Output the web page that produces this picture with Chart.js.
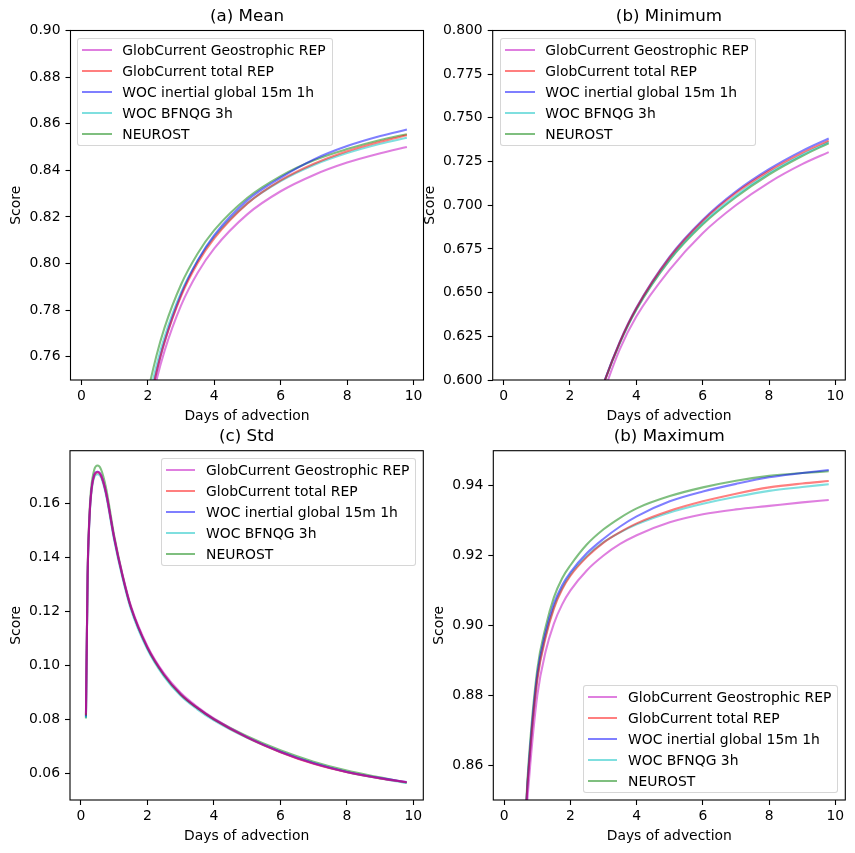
<!DOCTYPE html>
<html>
<head>
<meta charset="utf-8">
<script src="https://cdn.jsdelivr.net/npm/chart.js@4/dist/chart.umd.min.js"></script>
<style>
  html, body { margin: 0; padding: 0; background: #fff; }
  body { width: 855px; height: 853px; position: relative; overflow: hidden; font-family: "DejaVu Sans", sans-serif; }
  canvas { position: absolute; }
  .legend { position: absolute; background: rgba(255,255,255,0.8); border: 1px solid rgba(204,204,204,0.8);
            border-radius: 3px; padding: 0.6px 6px 0.6px 4px; font-size: 13.9px; color: #000; box-sizing: content-box; }
  .row { display: flex; align-items: center; height: 21px; white-space: nowrap; }
  .handle { width: 29.4px; height: 0; border-top: 2.1px solid; margin-right: 10.6px; flex: none; }
</style>
</head>
<body>
<script>
// ---------------- data ----------------
const seriesNames = ['GlobCurrent Geostrophic REP', 'GlobCurrent total REP', 'WOC inertial global 15m 1h', 'WOC BFNQG 3h', 'NEUROST'];
const xTickValues = [0, 2, 4, 6, 8, 10];

// (a) Mean
const meanDays        = [1.75, 2, 2.25, 2.5, 3, 3.5, 4, 5, 6, 7, 8, 9, 9.8];
const meanGeo         = [0.7120, 0.7330, 0.7494, 0.7624, 0.7820, 0.7960, 0.8065, 0.8212, 0.8310, 0.8380, 0.8433, 0.8473, 0.8500];
const meanTotal       = [0.7149, 0.7362, 0.7528, 0.7661, 0.7860, 0.8002, 0.8108, 0.8258, 0.8357, 0.8428, 0.8482, 0.8523, 0.8550];
const meanWocInertial = [0.7138, 0.7357, 0.7527, 0.7663, 0.7867, 0.8013, 0.8122, 0.8272, 0.8368, 0.8447, 0.8504, 0.8547, 0.8575];
const meanWocBfnqg    = [0.7192, 0.7397, 0.7557, 0.7684, 0.7876, 0.8012, 0.8115, 0.8259, 0.8354, 0.8423, 0.8474, 0.8514, 0.8540];
const meanNeurost     = [0.7246, 0.7445, 0.7600, 0.7724, 0.7910, 0.8043, 0.8143, 0.8282, 0.8375, 0.8443, 0.8491, 0.8530, 0.8555];
const meanTicks = [0.76, 0.78, 0.80, 0.82, 0.84, 0.86, 0.88, 0.90];

// (b) Minimum
const minDays        = [2.5, 2.75, 3, 3.5, 4, 5, 6, 7, 8, 9, 9.8];
const minGeo         = [0.5600, 0.5770, 0.5920, 0.6175, 0.6363, 0.6630, 0.6840, 0.7000, 0.7130, 0.7235, 0.7304];
const minTotal       = [0.5650, 0.5822, 0.5970, 0.6215, 0.6410, 0.6700, 0.6910, 0.7070, 0.7196, 0.7300, 0.7370];
const minWocInertial = [0.5653, 0.5825, 0.5973, 0.6218, 0.6413, 0.6705, 0.6916, 0.7078, 0.7206, 0.7311, 0.7382];
const minWocBfnqg    = [0.5655, 0.5825, 0.5972, 0.6212, 0.6405, 0.6690, 0.6898, 0.7055, 0.7185, 0.7290, 0.7362];
const minNeurost     = [0.5655, 0.5823, 0.5970, 0.6210, 0.6402, 0.6685, 0.6890, 0.7046, 0.7176, 0.7282, 0.7355];
const minTicks = [0.600, 0.625, 0.650, 0.675, 0.700, 0.725, 0.750, 0.775, 0.800];

// (c) Std
const stdDays        = [0.15, 0.2, 0.25, 0.3, 0.4, 0.5, 0.6, 0.75, 1.0, 1.25, 1.5, 2.0, 2.5, 3.0, 3.5, 4.0, 5.0, 6.0, 7.0, 8.0, 9.0, 9.8];
const stdGeo         = [0.0822, 0.1340, 0.1535, 0.1632, 0.1706, 0.1717, 0.1706, 0.1643, 0.1475, 0.1336, 0.1221, 0.1071, 0.0970, 0.0898, 0.0846, 0.0803, 0.0734, 0.0679, 0.0636, 0.0605, 0.0582, 0.0567];
const stdTotal       = [0.0815, 0.1332, 0.1530, 0.1628, 0.1703, 0.1715, 0.1703, 0.1640, 0.1471, 0.1331, 0.1216, 0.1066, 0.0965, 0.0893, 0.0842, 0.0800, 0.0732, 0.0678, 0.0635, 0.0604, 0.0581, 0.0567];
const stdWocInertial = [0.0810, 0.1330, 0.1530, 0.1630, 0.1705, 0.1717, 0.1705, 0.1640, 0.1470, 0.1330, 0.1215, 0.1065, 0.0965, 0.0893, 0.0842, 0.0800, 0.0733, 0.0680, 0.0637, 0.0605, 0.0582, 0.0568];
const stdWocBfnqg    = [0.0805, 0.1325, 0.1525, 0.1622, 0.1697, 0.1708, 0.1697, 0.1633, 0.1463, 0.1323, 0.1208, 0.1058, 0.0958, 0.0887, 0.0837, 0.0796, 0.0731, 0.0679, 0.0637, 0.0605, 0.0581, 0.0564];
const stdNeurost     = [0.0803, 0.1340, 0.1545, 0.1648, 0.1725, 0.1740, 0.1727, 0.1660, 0.1480, 0.1335, 0.1217, 0.1064, 0.0963, 0.0892, 0.0842, 0.0801, 0.0737, 0.0685, 0.0643, 0.0610, 0.0585, 0.0565];
const stdTicks = [0.06, 0.08, 0.10, 0.12, 0.14, 0.16];

// (d) Maximum
const maxDays        = [0.5, 0.67, 0.75, 1.0, 1.25, 1.5, 1.75, 2.0, 2.5, 3.0, 3.5, 4.0, 5.0, 6.0, 7.0, 8.0, 9.0, 9.8];
const maxGeo         = [0.7950, 0.8450, 0.8560, 0.8800, 0.8925, 0.9005, 0.9060, 0.9100, 0.9158, 0.9200, 0.9233, 0.9258, 0.9295, 0.9318, 0.9332, 0.9342, 0.9352, 0.9359];
const maxTotal       = [0.8000, 0.8490, 0.8600, 0.8845, 0.8965, 0.9048, 0.9103, 0.9142, 0.9196, 0.9237, 0.9267, 0.9292, 0.9328, 0.9355, 0.9377, 0.9395, 0.9406, 0.9413];
const maxWocInertial = [0.8000, 0.8490, 0.8610, 0.8860, 0.8980, 0.9062, 0.9115, 0.9152, 0.9207, 0.9248, 0.9283, 0.9312, 0.9355, 0.9383, 0.9405, 0.9424, 0.9436, 0.9445];
const maxWocBfnqg    = [0.8000, 0.8490, 0.8605, 0.8850, 0.8970, 0.9053, 0.9107, 0.9146, 0.9199, 0.9238, 0.9266, 0.9289, 0.9323, 0.9348, 0.9368, 0.9385, 0.9396, 0.9404];
const maxNeurost     = [0.8000, 0.8500, 0.8625, 0.8875, 0.8995, 0.9080, 0.9135, 0.9172, 0.9232, 0.9275, 0.9308, 0.9335, 0.9370, 0.9395, 0.9414, 0.9428, 0.9436, 0.9441];
const maxTicks = [0.86, 0.88, 0.90, 0.92, 0.94];

// ---------------- styles & layout ----------------
const FONT = "'DejaVu Sans', sans-serif";
const seriesColors = ['rgba(191,0,191,0.5)', 'rgba(255,0,0,0.5)', 'rgba(0,0,255,0.5)', 'rgba(0,191,191,0.5)', 'rgba(0,128,0,0.5)'];
Chart.defaults.font.family = FONT;
Chart.defaults.color = '#000';

const panels = [
  { title: '(a) Mean', days: meanDays, series: [meanGeo, meanTotal, meanWocInertial, meanWocBfnqg, meanNeurost],
    yMin: 0.75, yMax: 0.90, yTicks: meanTicks, dec: 2,
    box: [0, 0, 430, 430], area: [70.5, 30.5, 423.5, 380], scoreMid: 16.5, xTitleMid: 416,
    legend: { left: 77.3, top: 37.7 } },
  { title: '(b) Minimum', days: minDays, series: [minGeo, minTotal, minWocInertial, minWocBfnqg, minNeurost],
    yMin: 0.60, yMax: 0.80, yTicks: minTicks, dec: 3,
    box: [420, 0, 435, 430], area: [492.7, 30.5, 845.3, 380], scoreMid: 430.5, xTitleMid: 416,
    legend: { left: 500.3, top: 37.7 } },
  { title: '(c) Std', days: stdDays, series: [stdGeo, stdTotal, stdWocInertial, stdWocBfnqg, stdNeurost],
    yMin: 0.0501, yMax: 0.1795, yTicks: stdTicks, dec: 2,
    box: [0, 420, 430, 433], area: [70, 450.7, 423.3, 800], scoreMid: 16.7, xTitleMid: 836,
    legend: { right: 855 - 416.3, top: 457.7 } },
  { title: '(b) Maximum', days: maxDays, series: [maxGeo, maxTotal, maxWocInertial, maxWocBfnqg, maxNeurost],
    yMin: 0.85, yMax: 0.95, yTicks: maxTicks, dec: 2,
    box: [420, 420, 435, 433], area: [493.3, 450.7, 845.3, 800], scoreMid: 439.2, xTitleMid: 836,
    legend: { right: 855 - 838.3, bottom: 853 - 793.3 } }
];

const framePlugin = {
  id: 'frame',
  afterDatasetsDraw(chart) {
    const { ctx, chartArea: a } = chart;
    ctx.save();
    ctx.strokeStyle = '#000';
    ctx.lineWidth = 1.1;
    ctx.strokeRect(a.left, a.top, a.right - a.left, a.bottom - a.top);
    ctx.restore();
  }
};

const TICK_FONT = { family: FONT, size: 13.9, lineHeight: 1.2 };
const TITLE_FONT = { family: FONT, size: 16.7, lineHeight: 1.2, weight: 'normal' };

panels.forEach(p => {
  const [L, T, W, H] = p.box;
  const [cl, ct, cr, cb] = p.area;
  const canvas = document.createElement('canvas');
  canvas.width = W; canvas.height = H;
  canvas.style.left = L + 'px'; canvas.style.top = T + 'px';
  canvas.style.width = W + 'px'; canvas.style.height = H + 'px';
  document.body.appendChild(canvas);

  const titleLH = TITLE_FONT.size * 1.2;
  const tickLH = TICK_FONT.size * 1.2;
  const titleMidRel = 16.4;
  const titlePadTop = titleMidRel - titleLH / 2;
  const titlePadBottom = (ct - T) - titlePadTop - titleLH;
  const yW = cl - L;
  const xH = (T + H) - cb;
  const xTitlePadBottom = (T + H) - p.xTitleMid - tickLH / 2;
  const yTitlePadTop = (p.scoreMid - L) - tickLH / 2;

  const datasets = p.series.map((vals, i) => ({
    label: seriesNames[i],
    data: p.days.map((d, k) => ({ x: d, y: vals[k] })),
    borderColor: seriesColors[i],
    backgroundColor: seriesColors[i],
    borderWidth: 2.08,
    pointRadius: 0,
    pointHoverRadius: 0,
    fill: false,
    cubicInterpolationMode: 'monotone',
    clip: 0
  }));

  const gridOpts = { display: true, drawOnChartArea: false, drawTicks: true, tickLength: 5, tickWidth: 1.1, tickColor: '#000' };

  new Chart(canvas, {
    type: 'line',
    data: { datasets },
    options: {
      responsive: false,
      animation: false,
      devicePixelRatio: 1,
      events: [],
      layout: { padding: { left: 0, top: 0, right: W - (cr - L), bottom: 0 } },
      plugins: {
        legend: { display: false },
        tooltip: { enabled: false },
        title: { display: true, text: p.title, color: '#000', fullSize: false, font: TITLE_FONT,
                 padding: { top: titlePadTop, bottom: titlePadBottom } }
      },
      scales: {
        x: {
          type: 'linear', min: -0.33, max: 10.3,
          afterBuildTicks: s => { s.ticks = xTickValues.map(v => ({ value: v })); },
          afterFit: s => { s.height = xH; },
          ticks: { color: '#000', font: TICK_FONT, padding: 3.2, maxRotation: 0, autoSkip: false, callback: v => String(v) },
          grid: gridOpts,
          border: { display: false },
          title: { display: true, text: 'Days of advection', color: '#000', font: TICK_FONT, padding: { top: 0, bottom: xTitlePadBottom } }
        },
        y: {
          type: 'linear', min: p.yMin, max: p.yMax,
          afterBuildTicks: s => { s.ticks = p.yTicks.map(v => ({ value: v })); },
          afterFit: s => { s.width = yW; },
          ticks: { color: '#000', font: TICK_FONT, padding: 5, autoSkip: false, callback: v => Number(v).toFixed(p.dec) },
          grid: gridOpts,
          border: { display: false },
          title: { display: true, text: 'Score', color: '#000', font: TICK_FONT, padding: { top: yTitlePadTop, bottom: 0 } }
        }
      }
    },
    plugins: [framePlugin]
  });

  // legend box (matplotlib-style), built from the same series names and colours
  const lg = document.createElement('div');
  lg.className = 'legend';
  Object.entries(p.legend).forEach(([k, v]) => { lg.style[k] = v + 'px'; });
  seriesNames.forEach((name, i) => {
    const row = document.createElement('div');
    row.className = 'row';
    const h = document.createElement('span');
    h.className = 'handle';
    h.style.borderTopColor = seriesColors[i];
    const t = document.createElement('span');
    t.textContent = name;
    row.appendChild(h); row.appendChild(t);
    lg.appendChild(row);
  });
  document.body.appendChild(lg);
});
</script>
</body>
</html>
